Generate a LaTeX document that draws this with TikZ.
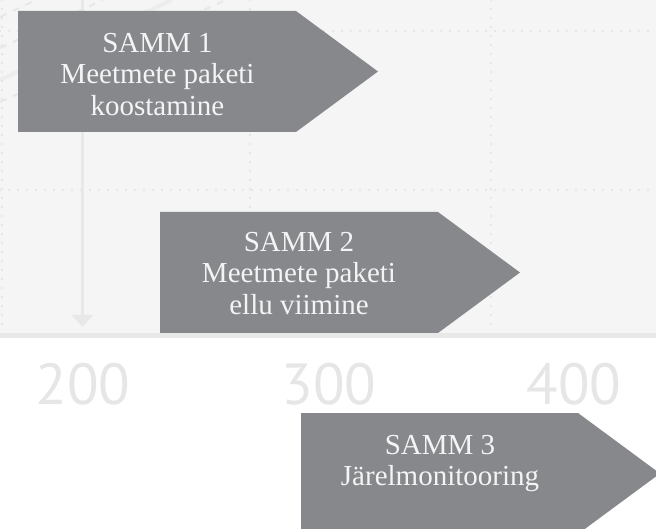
\documentclass[tikz,border=0pt]{standalone}
\usepackage{fontspec}
\setmainfont{Liberation Serif}
\newfontfamily\axisfont{PT Sans}
\usetikzlibrary{arrows.meta}
\definecolor{panelbg}{HTML}{F5F5F5}
\definecolor{bandgray}{HTML}{E8E8E8}
\definecolor{dotgray}{HTML}{E2E2E2}
\definecolor{boxgray}{HTML}{86888C}
\definecolor{txtwhite}{HTML}{F4F4F4}
\definecolor{axistxt}{HTML}{E6E6E6}
\tikzset{
  griddots/.style={draw=dotgray, line width=2.2pt, line cap=round, dash pattern=on 0pt off 9pt},
  diagdash/.style={draw=bandgray, line width=2pt, dash pattern=on 7pt off 7pt},
  diagband/.style={draw=bandgray!80!white, line width=4pt},
  axisline/.style={draw=bandgray, line width=2.8pt, -{Triangle[width=21pt,length=12pt]}},
  stepshape/.style={fill=boxgray},
  steptext/.style={text=txtwhite, font=\fontsize{29}{31.5}\selectfont, align=center, inner sep=0pt, anchor=north},
  axislabel/.style={text=axistxt, font=\axisfont\fontsize{58}{60}\selectfont, inner sep=0pt, anchor=base}
}
\begin{document}
\begin{tikzpicture}[x=1pt,y=-1pt]
\useasboundingbox (0,0) rectangle (656,529);
% background panel
\fill[panelbg] (0,0) rectangle (656,333);
\fill[bandgray] (0,333) rectangle (656,338);
% faint diagonal decoration
\draw[diagband] (0,80) -- (172,0);
\draw[diagdash] (0,17) -- (36,0);
\draw[diagdash] (0,48) -- (103,0);
\draw[diagdash] (0,102) -- (226,0);
% dotted grid
\draw[griddots] (0,31) -- (656,31);
\draw[griddots] (0,190) -- (656,190);
\draw[griddots] (2,0) -- (2,325);
\draw[griddots] (250,0) -- (250,325);
\draw[griddots] (491,0) -- (491,325);
% vertical axis arrow
\coordinate (axtop) at (82.5,0);
\coordinate (axbot) at (82.5,327);
\draw[axisline] (axtop) -- (axbot);
% axis labels
\node[axislabel] (l200) at (83,404) {200};
\node[axislabel] (l300) at (329,404) {300};
\node[axislabel] (l400) at (574,404) {400};
% step arrows
\fill[stepshape] (18,11) -- (296,11) -- (378,71.5) -- (296,132) -- (18,132) -- cycle;
\node[steptext] (s1) at (157.5,33) {SAMM 1\\Meetmete paketi\\koostamine};
\fill[stepshape] (160,212) -- (438,212) -- (520,272.5) -- (438,333) -- (160,333) -- cycle;
\node[steptext] (s2) at (299,232) {SAMM 2\\Meetmete paketi\\ellu viimine};
\fill[stepshape] (301,413) -- (578,413) -- (660,473.5) -- (578,534) -- (301,534) -- cycle;
\node[steptext] (s3) at (440,435) {SAMM 3\\Järelmonitooring};
\end{tikzpicture}
\end{document}
